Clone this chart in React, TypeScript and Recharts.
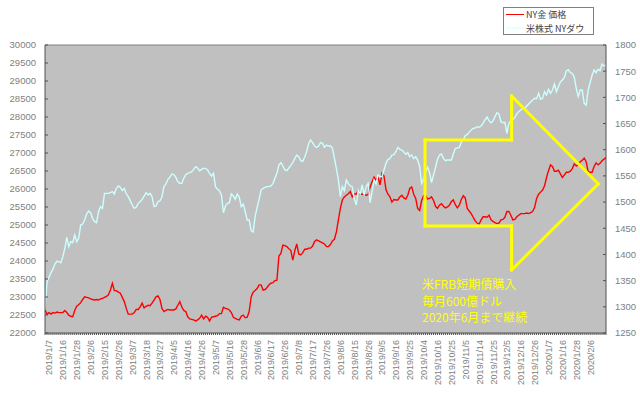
import React from 'react';
import { LineChart, Line, XAxis, YAxis, CartesianGrid, ReferenceLine, Legend } from 'recharts';

const dateLabels = [
  '2019/1/7', '2019/1/16', '2019/1/28', '2019/2/6', '2019/2/15', '2019/2/26', '2019/3/7', '2019/3/18',
  '2019/3/27', '2019/4/5', '2019/4/16', '2019/4/26', '2019/5/7', '2019/5/16', '2019/5/28', '2019/6/6',
  '2019/6/17', '2019/6/26', '2019/7/8', '2019/7/17', '2019/7/26', '2019/8/6', '2019/8/15', '2019/8/26',
  '2019/9/5', '2019/9/16', '2019/9/25', '2019/10/4', '2019/10/16', '2019/10/25', '2019/11/5', '2019/11/14',
  '2019/11/25', '2019/12/5', '2019/12/16', '2019/12/26', '2020/1/7', '2020/1/16', '2020/1/28', '2020/2/6',
];

const dowValues = [
  22685, 23425, 23546, 23676, 23768, 23916, 23990, 23981, 23953, 24120,
  24351, 24657, 24398, 24537, 24509, 24722, 24537, 24629, 25000, 25027,
  25139, 25305, 25389, 25342, 25185, 25092, 25064, 25370, 25509, 25463,
  25879, 25879, 25879, 25898, 25926, 25861, 26018, 26083, 26046, 25954,
  26018, 25861, 25787, 25676, 25555, 25463, 25491, 25602, 25648, 25713,
  25805, 25898, 25833, 25879, 25787, 25509, 25528, 25648, 25666, 25787,
  26065, 26139, 26268, 26324, 26417, 26398, 26324, 26204, 26157, 26157,
  26296, 26398, 26435, 26454, 26481, 26546, 26620, 26583, 26509, 26546,
  26574, 26574, 26528, 26435, 26361, 26435, 26065, 25991, 25954, 25833,
  25342, 25528, 25600, 25620, 25861, 25805, 25713, 25861, 25768, 25509,
  25583, 25370, 25139, 25139, 24842, 24805, 25231, 25491, 25713, 25972,
  26018, 26046, 26065, 26065, 26083, 26157, 26300, 26435, 26667, 26731,
  26639, 26528, 26509, 26583, 26657, 26741, 26842, 26944, 26898, 26787,
  26768, 26880, 27037, 27268, 27361, 27287, 27194, 27157, 27194, 27287,
  27268, 27157, 27222, 27194, 27194, 27129, 26852, 26574, 26250, 25787,
  26065, 25954, 26250, 26150, 26083, 26065, 25741, 25555, 25972, 25861,
  26111, 25833, 26065, 26157, 25620, 25926, 26250, 26139, 26389, 26343,
  26343, 26528, 26713, 26824, 26842, 26944, 26954, 27037, 27157, 27102,
  27083, 27028, 26963, 27009, 26898, 26944, 26843, 26898, 26805, 26620,
  26157, 26268, 26481, 26602, 26454, 26176, 26389, 26602, 26824, 26944,
  26972, 26852, 26787, 26806, 26806, 26806, 26972, 27129, 27139, 27157,
  27305, 27361, 27481, 27518, 27580, 27639, 27685, 27694, 27731, 27713,
  27750, 27833, 27917, 28000, 27898, 27842, 27889, 28009, 28120, 28083,
  27870, 27842, 27850, 27546, 27824, 27898, 27917, 27991, 28083, 28148,
  28195, 28241, 28241, 28306, 28361, 28417, 28472, 28518, 28509, 28657,
  28491, 28518, 28704, 28611, 28768, 28657, 28750, 28917, 28704, 28843,
  28972, 29028, 29102, 29278, 29315, 29231, 29213, 29102, 28796, 28565,
  28750, 28750, 28380, 28333, 28750, 28950, 29167, 29306, 29231, 29324,
  29287, 29472, 29417, 29444,
];

const goldValues = [
  1294, 1286, 1289, 1286, 1289, 1288, 1290, 1289, 1289, 1289,
  1293, 1289, 1284, 1282, 1281, 1293, 1301, 1304, 1308, 1314,
  1319, 1318, 1317, 1315, 1314, 1313, 1314, 1313, 1315, 1316,
  1318, 1320, 1323, 1332, 1345, 1331, 1331, 1328, 1326, 1318,
  1310, 1297, 1286, 1286, 1286, 1289, 1295, 1295, 1300, 1307,
  1298, 1301, 1303, 1302, 1307, 1313, 1319, 1321, 1314, 1297,
  1291, 1293, 1295, 1294, 1294, 1294, 1296, 1303, 1310, 1300,
  1293, 1291, 1281, 1277, 1276, 1275, 1273, 1275, 1278, 1284,
  1277, 1282, 1280, 1273, 1280, 1281, 1282, 1283, 1287, 1287,
  1299, 1297, 1296, 1294, 1289, 1280, 1278, 1276, 1275, 1282,
  1284, 1279, 1280, 1291, 1319, 1328, 1331, 1335, 1342, 1342,
  1332, 1333, 1337, 1342, 1345, 1346, 1350, 1351, 1397, 1402,
  1418, 1417, 1415, 1411, 1408, 1389, 1407, 1420, 1401, 1399,
  1403, 1410, 1410, 1412, 1412, 1416, 1425, 1428, 1426, 1424,
  1422, 1420, 1415, 1415, 1419, 1426, 1429, 1443, 1466, 1488,
  1504, 1510, 1513, 1516, 1520, 1510, 1516, 1515, 1522, 1515,
  1515, 1515, 1513, 1514, 1529, 1539, 1548, 1542, 1548, 1533,
  1555, 1550, 1524, 1515, 1510, 1500, 1505, 1504, 1504, 1510,
  1513, 1508, 1506, 1513, 1526, 1529, 1515, 1507, 1488, 1484,
  1503, 1512, 1512, 1506, 1507, 1510, 1503, 1492, 1488, 1494,
  1497, 1492, 1489, 1491, 1494, 1501, 1504, 1495, 1489, 1494,
  1505, 1512, 1508, 1488, 1483, 1478, 1471, 1464, 1460, 1458,
  1466, 1472, 1472, 1471, 1475, 1466, 1463, 1461, 1459, 1460,
  1466, 1467, 1471, 1482, 1482, 1475, 1466, 1467, 1472, 1475,
  1478, 1478, 1478, 1479, 1478, 1480, 1482, 1490, 1507, 1515,
  1519, 1523, 1531, 1547, 1560, 1571, 1568, 1559, 1559, 1561,
  1554, 1547, 1552, 1557, 1557, 1559, 1564, 1573, 1569, 1572,
  1577, 1580, 1584, 1577, 1558, 1557, 1557, 1568, 1575, 1571,
  1574, 1579, 1582, 1585,
];

const leftTicks = [22000, 22500, 23000, 23500, 24000, 24500, 25000, 25500, 26000, 26500, 27000, 27500, 28000, 28500, 29000, 29500, 30000];
const rightTicks = [1250, 1300, 1350, 1400, 1450, 1500, 1550, 1600, 1650, 1700, 1750, 1800];

const goldName = 'NY金 価格';
const dowName = '米株式 NYダウ';
const annotationLines = ['米FRB短期債購入', '毎月600億ドル', '2020年6月まで継続'];

// block arrow outline in data coordinates (index, Dow axis value)
const arrowOutline = [
  { x: 191.7, y: 27361 },
  { x: 235.4, y: 27361 },
  { x: 235.4, y: 28583 },
  { x: 279.1, y: 26139 },
  { x: 235.4, y: 23750 },
  { x: 235.4, y: 24972 },
  { x: 191.7, y: 24972 },
  { x: 191.7, y: 27361 },
];

const FIRST_LABEL_INDEX = 2;
const LABEL_STEP = 7;
const labelByIndex = new Map<number, string>(dateLabels.map((l, k) => [FIRST_LABEL_INDEX + k * LABEL_STEP, l]));
const data = dowValues.map((dow, i) => ({ i, dow, gold: goldValues[i] }));
const allIndices = data.map((d) => d.i);

const FONT = '"Liberation Sans", Arial, sans-serif';
const JP_FONT = '"Noto Sans CJK JP", "Noto Sans", sans-serif';
const AXIS_TEXT = '#808080';
const AXIS_LINE = '#505050';
const YELLOW = '#FFFF00';

const XTick = (props: any) => {
  const { x, y, payload } = props;
  const label = labelByIndex.get(payload.value);
  if (!label) return <g />;
  return (
    <g transform={`translate(${x},${y})`}>
      <text
        transform="rotate(-90)"
        x={-5}
        y={3.5}
        textAnchor="end"
        fill={AXIS_TEXT}
        fontSize={9}
        fontFamily={FONT}
      >
        {label}
      </text>
    </g>
  );
};

const renderLegend = (props: any) => {
  const payload = (props.payload || []) as any[];
  const order = [goldName, dowName];
  const items = order
    .map((n) => payload.find((p) => p.value === n))
    .filter(Boolean);
  return (
    <svg width={91} height={28} style={{ display: 'block' }}>
      <rect x={0.5} y={0.5} width={90} height={27} fill="#ffffff" stroke="#808080" strokeWidth={1} />
      {items.map((p: any, k: number) => {
        const cy = 7.5 + k * 13.5;
        return (
          <g key={p.value}>
            <line x1={3} y1={cy} x2={21} y2={cy} stroke={p.color} strokeWidth={1} />
            <text
              x={23}
              y={cy}
              dominantBaseline="central"
              fontSize={9}
              fontFamily={JP_FONT}
              fill="#404040"
            >
              {p.value}
            </text>
          </g>
        );
      })}
    </svg>
  );
};

export default function App() {
  return (
    <div style={{ position: 'absolute', left: 0, top: 0, width: 640, height: 397, background: '#ffffff' }}>
      <LineChart width={640} height={397} data={data} margin={{ top: 45, right: 0, bottom: 0, left: 0 }}>
        <CartesianGrid horizontal={false} vertical={false} fill="#C0C0C0" />
        <XAxis
          dataKey="i"
          type="number"
          domain={[0, data.length - 1]}
          ticks={allIndices}
          interval={0}
          tickSize={2}
          tickMargin={0}
          height={64}
          axisLine={{ stroke: AXIS_LINE }}
          tickLine={{ stroke: AXIS_LINE }}
          tick={(p: any) => <XTick {...p} />}
          allowDataOverflow
        />
        <YAxis
          domain={[22000, 30000]}
          ticks={leftTicks}
          interval={0}
          width={45}
          tickSize={-3}
          tickMargin={12}
          axisLine={{ stroke: AXIS_LINE }}
          tickLine={{ stroke: AXIS_LINE }}
          tick={{ fill: AXIS_TEXT, fontSize: 9.5, fontFamily: FONT }}
          allowDataOverflow
        />
        <YAxis
          yAxisId="right"
          orientation="right"
          domain={[1250, 1800]}
          ticks={rightTicks}
          interval={0}
          width={34}
          tickSize={-3}
          tickMargin={12}
          axisLine={{ stroke: AXIS_LINE }}
          tickLine={{ stroke: AXIS_LINE }}
          tick={{ fill: AXIS_TEXT, fontSize: 9.5, fontFamily: FONT }}
          allowDataOverflow
        />
        <ReferenceLine y={30000} stroke="#808080" strokeWidth={1} />
        <Line
          type="linear"
          dataKey="gold"
          yAxisId="right"
          name={goldName}
          stroke="#FF0000"
          strokeWidth={1.4}
          dot={false}
          activeDot={false}
          isAnimationActive={false}
        />
        <Line
          type="linear"
          dataKey="dow"
          name={dowName}
          stroke="#CCFFFF"
          strokeWidth={1.4}
          dot={false}
          activeDot={false}
          isAnimationActive={false}
        />
        {arrowOutline.slice(0, -1).map((p, k) => (
          <ReferenceLine
            key={`arrow-${k}`}
            segment={[p, arrowOutline[k + 1]]}
            stroke={YELLOW}
            strokeWidth={3}
            strokeLinecap="square"
          />
        ))}
        <Legend
          layout="horizontal"
          verticalAlign="middle"
          align="center"
          content={renderLegend}
          wrapperStyle={{ position: 'absolute', left: 503, top: 7, width: 91, height: 28 }}
        />
      </LineChart>
      <div
        style={{
          position: 'absolute',
          left: 422,
          top: 276,
          color: YELLOW,
          fontFamily: JP_FONT,
          fontSize: 12,
          lineHeight: '16.7px',
          whiteSpace: 'nowrap',
        }}
      >
        {annotationLines.map((t) => (
          <div key={t}>{t}</div>
        ))}
      </div>
    </div>
  );
}
